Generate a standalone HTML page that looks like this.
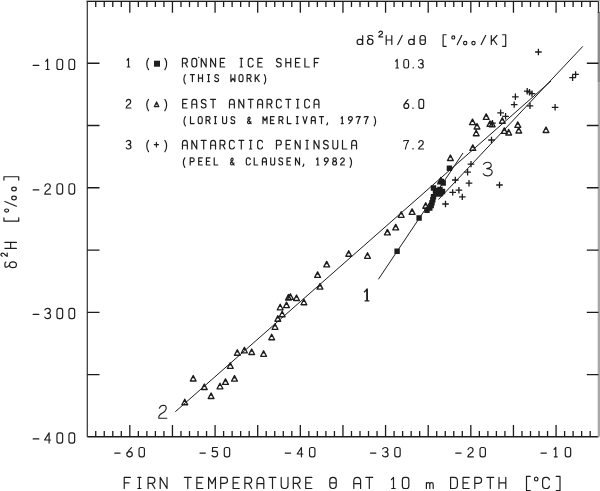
<!DOCTYPE html>
<html><head><meta charset="utf-8"><style>
html,body{margin:0;padding:0;background:#fff;width:600px;height:491px;overflow:hidden}
svg{display:block}
</style></head><body>
<svg width="600" height="491" viewBox="0 0 600 491">
<path d="M87.3,436.8 L87.3,1.3" fill="none" stroke="#383838" stroke-width="1.25"/>
<path d="M86.7,1.3 L598.5,1.3" fill="none" stroke="#1c1c1c" stroke-width="1.4"/>
<path d="M87.3,436.8 L598.5,436.8" fill="none" stroke="#1c1c1c" stroke-width="1.4"/>
<rect x="597.6" y="12" width="2.4" height="70" fill="#8c8c8c"/>
<rect x="597.7" y="82" width="2.3" height="354.8" fill="#a8a8a8"/>
<path d="M598.5,1.3 L598.5,13" fill="none" stroke="#333" stroke-width="1.4"/>
<rect x="86.5" y="0" width="513.5" height="0.9" fill="#b4b4b4"/>
<circle cx="198.7" cy="57.5" r="0.75" fill="#444"/>
<path d="M95.73,1.3 V7.0 M95.73,436.8 V431.0 M104.25,1.3 V7.0 M104.25,436.8 V431.0 M112.78,1.3 V7.0 M112.78,436.8 V431.0 M121.3,1.3 V7.0 M121.3,436.8 V431.0 M129.82,1.3 V12.7 M129.82,436.8 V425.0 M138.35,1.3 V7.0 M138.35,436.8 V431.0 M146.88,1.3 V7.0 M146.88,436.8 V431.0 M155.4,1.3 V7.0 M155.4,436.8 V431.0 M163.93,1.3 V7.0 M163.93,436.8 V431.0 M172.45,1.3 V12.7 M172.45,436.8 V425.0 M180.98,1.3 V7.0 M180.98,436.8 V431.0 M189.5,1.3 V7.0 M189.5,436.8 V431.0 M198.03,1.3 V7.0 M198.03,436.8 V431.0 M206.55,1.3 V7.0 M206.55,436.8 V431.0 M215.07,1.3 V12.7 M215.07,436.8 V425.0 M223.6,1.3 V7.0 M223.6,436.8 V431.0 M232.12,1.3 V7.0 M232.12,436.8 V431.0 M240.65,1.3 V7.0 M240.65,436.8 V431.0 M249.18,1.3 V7.0 M249.18,436.8 V431.0 M257.7,1.3 V12.7 M257.7,436.8 V425.0 M266.23,1.3 V7.0 M266.23,436.8 V431.0 M274.75,1.3 V7.0 M274.75,436.8 V431.0 M283.28,1.3 V7.0 M283.28,436.8 V431.0 M291.8,1.3 V7.0 M291.8,436.8 V431.0 M300.32,1.3 V12.7 M300.32,436.8 V425.0 M308.85,1.3 V7.0 M308.85,436.8 V431.0 M317.38,1.3 V7.0 M317.38,436.8 V431.0 M325.9,1.3 V7.0 M325.9,436.8 V431.0 M334.43,1.3 V7.0 M334.43,436.8 V431.0 M342.95,1.3 V12.7 M342.95,436.8 V425.0 M351.48,1.3 V7.0 M351.48,436.8 V431.0 M360.0,1.3 V7.0 M360.0,436.8 V431.0 M368.52,1.3 V7.0 M368.52,436.8 V431.0 M377.05,1.3 V7.0 M377.05,436.8 V431.0 M385.57,1.3 V12.7 M385.57,436.8 V425.0 M394.1,1.3 V7.0 M394.1,436.8 V431.0 M402.62,1.3 V7.0 M402.62,436.8 V431.0 M411.15,1.3 V7.0 M411.15,436.8 V431.0 M419.68,1.3 V7.0 M419.68,436.8 V431.0 M428.2,1.3 V12.7 M428.2,436.8 V425.0 M436.73,1.3 V7.0 M436.73,436.8 V431.0 M445.25,1.3 V7.0 M445.25,436.8 V431.0 M453.77,1.3 V7.0 M453.77,436.8 V431.0 M462.3,1.3 V7.0 M462.3,436.8 V431.0 M470.82,1.3 V12.7 M470.82,436.8 V425.0 M479.35,1.3 V7.0 M479.35,436.8 V431.0 M487.88,1.3 V7.0 M487.88,436.8 V431.0 M496.4,1.3 V7.0 M496.4,436.8 V431.0 M504.93,1.3 V7.0 M504.93,436.8 V431.0 M513.45,1.3 V12.7 M513.45,436.8 V425.0 M521.98,1.3 V7.0 M521.98,436.8 V431.0 M530.5,1.3 V7.0 M530.5,436.8 V431.0 M539.03,1.3 V7.0 M539.03,436.8 V431.0 M547.55,1.3 V7.0 M547.55,436.8 V431.0 M556.08,1.3 V12.7 M556.08,436.8 V425.0 M564.6,1.3 V7.0 M564.6,436.8 V431.0 M573.12,1.3 V7.0 M573.12,436.8 V431.0 M581.65,1.3 V7.0 M581.65,436.8 V431.0 M590.18,1.3 V7.0 M590.18,436.8 V431.0" stroke="#1c1c1c" stroke-width="1.3" fill="none"/>
<path d="M87.3,63.25 H99.5 M586.8,63.25 H598.5 M87.3,125.51 H99.5 M586.8,125.51 H598.5 M87.3,187.77 H99.5 M586.8,187.77 H598.5 M87.3,250.03 H99.5 M586.8,250.03 H598.5 M87.3,312.29 H99.5 M586.8,312.29 H598.5 M87.3,374.55 H99.5 M586.8,374.55 H598.5" stroke="#1c1c1c" stroke-width="1.3" fill="none"/>
<rect x="154.0" y="60.7" width="6.0" height="6.0" fill="#1e1e1e"/>
<path d="M154.4,106.6 L158.8,106.6 L156.6,102.0 Z" fill="#1e1e1e" stroke="#1e1e1e" stroke-width="1.2" stroke-linejoin="round"/>
<path d="M155.5,105.3 L157.7,105.3" stroke="#fff" stroke-width="1.0"/>
<path transform="rotate(-90)" d="M-262.09,5.86Q-262.53,4.90 -263.86,4.90L-265.79,4.90Q-267.41,4.90 -267.12,6.63Q-266.82,8.36 -264.75,9.51M-261.79,12.96C-261.79,14.87 -263.12,16.42 -264.75,16.42C-266.38,16.42 -267.71,14.87 -267.71,12.96C-267.71,11.06 -266.38,9.51 -264.75,9.51C-263.12,9.51 -261.79,11.06 -261.79,12.96 M-248.31,4.90L-248.31,16.42M-242.39,4.90L-242.39,16.42M-248.31,10.66L-242.39,10.66 M-217.92,3.94L-221.18,3.94L-221.18,18.72L-217.92,18.72 M-209.00,6.63C-209.00,7.74 -209.69,8.64 -210.55,8.64C-211.41,8.64 -212.10,7.74 -212.10,6.63C-212.10,5.51 -211.41,4.61 -210.55,4.61C-209.69,4.61 -209.00,5.51 -209.00,6.63 M-206.22,16.42L-201.48,4.90 M-196.22,14.02C-196.22,15.29 -197.02,16.32 -198.00,16.32C-198.98,16.32 -199.78,15.29 -199.78,14.02C-199.78,12.75 -198.98,11.72 -198.00,11.72C-197.02,11.72 -196.22,12.75 -196.22,14.02 M-187.22,14.02C-187.22,15.29 -188.02,16.32 -189.00,16.32C-189.98,16.32 -190.78,15.29 -190.78,14.02C-190.78,12.75 -189.98,11.72 -189.00,11.72C-188.02,11.72 -187.22,12.75 -187.22,14.02 M-180.03,3.94L-176.77,3.94L-176.77,18.72L-180.03,18.72 M-256.23,2.37Q-255.89,0.90 -254.70,0.90Q-253.17,0.90 -253.17,2.58Q-253.17,3.84 -254.70,4.89Q-256.23,5.94 -256.31,7.20L-253.00,7.20" fill="none" stroke="#1e1e1e" stroke-width="1.2" stroke-linecap="round" stroke-linejoin="round"/>
<path d="M33.15,65.41L38.85,65.41 M45.80,61.30L47.60,59.25L47.60,69.51M46.10,69.51L49.10,69.51 M58.97,59.25L60.62,59.25Q62.65,59.25 62.65,61.56L62.65,67.20Q62.65,69.51 60.62,69.51L58.97,69.51Q56.95,69.51 56.95,67.20L56.95,61.56Q56.95,59.25 58.97,59.25 M70.97,59.25L72.62,59.25Q74.65,59.25 74.65,61.56L74.65,67.20Q74.65,69.51 72.62,69.51L70.97,69.51Q68.95,69.51 68.95,67.20L68.95,61.56Q68.95,59.25 70.97,59.25 M33.15,189.93L38.85,189.93 M44.90,186.16Q45.50,183.77 47.60,183.77Q50.30,183.77 50.30,186.51Q50.30,188.56 47.60,190.27Q44.90,191.98 44.75,194.03L50.60,194.03 M58.97,183.77L60.62,183.77Q62.65,183.77 62.65,186.08L62.65,191.72Q62.65,194.03 60.62,194.03L58.97,194.03Q56.95,194.03 56.95,191.72L56.95,186.08Q56.95,183.77 58.97,183.77 M70.97,183.77L72.62,183.77Q74.65,183.77 74.65,186.08L74.65,191.72Q74.65,194.03 72.62,194.03L70.97,194.03Q68.95,194.03 68.95,191.72L68.95,186.08Q68.95,183.77 70.97,183.77 M33.15,314.45L38.85,314.45 M44.90,309.83Q45.80,308.29 47.60,308.29Q50.30,308.29 50.30,310.86Q50.30,313.25 47.30,313.25M47.30,313.25Q50.60,313.25 50.60,315.99Q50.60,318.55 47.60,318.55Q45.50,318.55 44.75,317.01 M58.97,308.29L60.62,308.29Q62.65,308.29 62.65,310.60L62.65,316.24Q62.65,318.55 60.62,318.55L58.97,318.55Q56.95,318.55 56.95,316.24L56.95,310.60Q56.95,308.29 58.97,308.29 M70.97,308.29L72.62,308.29Q74.65,308.29 74.65,310.60L74.65,316.24Q74.65,318.55 72.62,318.55L70.97,318.55Q68.95,318.55 68.95,316.24L68.95,310.60Q68.95,308.29 70.97,308.29 M33.15,438.97L38.85,438.97 M49.10,443.07L49.10,432.81L44.60,439.99L50.60,439.99 M58.97,432.81L60.62,432.81Q62.65,432.81 62.65,435.12L62.65,440.76Q62.65,443.07 60.62,443.07L58.97,443.07Q56.95,443.07 56.95,440.76L56.95,435.12Q56.95,432.81 58.97,432.81 M70.97,432.81L72.62,432.81Q74.65,432.81 74.65,435.12L74.65,440.76Q74.65,443.07 72.62,443.07L70.97,443.07Q68.95,443.07 68.95,440.76L68.95,435.12Q68.95,432.81 70.97,432.81 M114.73,453.08L120.12,453.08 M131.51,447.65Q128.39,450.29 127.11,453.55M132.29,454.24C132.29,455.66 131.05,456.80 129.52,456.80C128.00,456.80 126.76,455.66 126.76,454.24C126.76,452.83 128.00,451.69 129.52,451.69C131.05,451.69 132.29,452.83 132.29,454.24 M140.94,447.50L142.51,447.50Q144.42,447.50 144.42,449.59L144.42,454.71Q144.42,456.80 142.51,456.80L140.94,456.80Q139.03,456.80 139.03,454.71L139.03,449.59Q139.03,447.50 140.94,447.50 M199.98,453.08L205.37,453.08 M217.33,447.50L212.64,447.50L212.36,451.69Q213.35,451.22 214.77,451.22Q217.61,451.22 217.61,454.01Q217.61,456.80 214.77,456.80Q212.93,456.80 212.08,455.56 M226.19,447.50L227.76,447.50Q229.67,447.50 229.67,449.59L229.67,454.71Q229.67,456.80 227.76,456.80L226.19,456.80Q224.28,456.80 224.28,454.71L224.28,449.59Q224.28,447.50 226.19,447.50 M285.23,453.08L290.62,453.08 M301.44,456.80L301.44,447.50L297.19,454.01L302.87,454.01 M311.44,447.50L313.01,447.50Q314.92,447.50 314.92,449.59L314.92,454.71Q314.92,456.80 313.01,456.80L311.44,456.80Q309.53,456.80 309.53,454.71L309.53,449.59Q309.53,447.50 311.44,447.50 M370.48,453.08L375.87,453.08 M382.72,448.89Q383.57,447.50 385.27,447.50Q387.83,447.50 387.83,449.82Q387.83,452.00 384.99,452.00M384.99,452.00Q388.12,452.00 388.12,454.48Q388.12,456.80 385.27,456.80Q383.29,456.80 382.58,455.40 M396.69,447.50L398.26,447.50Q400.17,447.50 400.17,449.59L400.17,454.71Q400.17,456.80 398.26,456.80L396.69,456.80Q394.78,456.80 394.78,454.71L394.78,449.59Q394.78,447.50 396.69,447.50 M455.73,453.08L461.12,453.08 M467.97,449.67Q468.54,447.50 470.52,447.50Q473.08,447.50 473.08,449.98Q473.08,451.84 470.52,453.39Q467.97,454.94 467.83,456.80L473.37,456.80 M481.94,447.50L483.51,447.50Q485.42,447.50 485.42,449.59L485.42,454.71Q485.42,456.80 483.51,456.80L481.94,456.80Q480.03,456.80 480.03,454.71L480.03,449.59Q480.03,447.50 481.94,447.50 M540.98,453.08L546.37,453.08 M554.07,449.36L555.78,447.50L555.78,456.80M554.36,456.80L557.20,456.80 M567.19,447.50L568.76,447.50Q570.67,447.50 570.67,449.59L570.67,454.71Q570.67,456.80 568.76,456.80L567.19,456.80Q565.28,456.80 565.28,454.71L565.28,449.59Q565.28,447.50 567.19,447.50 M130.36,477.40L124.24,477.40L124.24,488.50M124.24,482.95L129.00,482.95 M137.87,477.40L140.93,477.40M139.40,477.40L139.40,488.50M137.87,488.50L140.93,488.50 M148.10,488.50L148.10,477.40L152.18,477.40Q154.90,477.40 154.90,480.36Q154.90,483.32 152.18,483.32L148.10,483.32M151.84,483.32L154.90,488.50 M160.20,488.50L160.20,477.40L167.00,488.50L167.00,477.40 M184.40,477.40L191.20,477.40M187.80,477.40L187.80,488.50 M202.96,477.40L196.84,477.40L196.84,488.50L202.96,488.50M196.84,482.95L201.60,482.95 M208.60,488.50L208.60,477.40L212.00,483.69L215.40,477.40L215.40,488.50 M220.70,488.50L220.70,477.40L224.78,477.40Q227.50,477.40 227.50,480.36Q227.50,483.32 224.78,483.32L220.70,483.32 M239.26,477.40L233.14,477.40L233.14,488.50L239.26,488.50M233.14,482.95L237.90,482.95 M244.90,488.50L244.90,477.40L248.98,477.40Q251.70,477.40 251.70,480.36Q251.70,483.32 248.98,483.32L244.90,483.32M248.64,483.32L251.70,488.50 M257.00,488.50L257.00,481.10Q257.00,477.40 260.40,477.40Q263.80,477.40 263.80,481.10L263.80,488.50M257.00,483.69L263.80,483.69 M269.10,477.40L275.90,477.40M272.50,477.40L272.50,488.50 M281.20,477.40L281.20,485.35Q281.20,488.50 284.09,488.50L285.11,488.50Q288.00,488.50 288.00,485.35L288.00,477.40 M293.30,488.50L293.30,477.40L297.38,477.40Q300.10,477.40 300.10,480.36Q300.10,483.32 297.38,483.32L293.30,483.32M297.04,483.32L300.10,488.50 M311.86,477.40L305.74,477.40L305.74,488.50L311.86,488.50M305.74,482.95L310.50,482.95 M332.66,477.40L333.34,477.40Q336.23,477.40 336.23,480.54L336.23,485.35Q336.23,488.50 333.34,488.50L332.66,488.50Q329.77,488.50 329.77,485.35L329.77,480.54Q329.77,477.40 332.66,477.40M329.77,482.95L336.23,482.95 M353.80,488.50L353.80,481.10Q353.80,477.40 357.20,477.40Q360.60,477.40 360.60,481.10L360.60,488.50M353.80,483.69L360.60,483.69 M365.90,477.40L372.70,477.40M369.30,477.40L369.30,488.50 M391.46,479.62L393.50,477.40L393.50,488.50M391.80,488.50L395.20,488.50 M404.67,477.40L406.54,477.40Q408.83,477.40 408.83,479.90L408.83,486.00Q408.83,488.50 406.54,488.50L404.67,488.50Q402.37,488.50 402.37,486.00L402.37,479.90Q402.37,477.40 404.67,477.40 M426.40,488.50L426.40,482.58M426.40,484.06Q426.91,482.58 428.10,482.58Q429.80,482.58 429.80,484.43L429.80,488.50M429.80,484.43Q429.80,482.58 431.50,482.58Q433.20,482.58 433.20,484.43L433.20,488.50 M450.60,477.40L450.60,488.50L454.17,488.50Q457.40,488.50 457.40,484.98L457.40,480.91Q457.40,477.40 454.17,477.40Z M469.16,477.40L463.04,477.40L463.04,488.50L469.16,488.50M463.04,482.95L467.80,482.95 M474.80,488.50L474.80,477.40L478.88,477.40Q481.60,477.40 481.60,480.36Q481.60,483.32 478.88,483.32L474.80,483.32 M486.90,477.40L493.70,477.40M490.30,477.40L490.30,488.50 M499.00,477.40L499.00,488.50M505.80,477.40L505.80,488.50M499.00,482.95L505.80,482.95 M530.24,476.47L526.50,476.47L526.50,490.72L530.24,490.72 M537.99,479.06C537.99,480.14 537.19,481.01 536.20,481.01C535.21,481.01 534.42,480.14 534.42,479.06C534.42,477.99 535.21,477.12 536.20,477.12C537.19,477.12 537.99,477.99 537.99,479.06 M549.40,479.80Q549.06,477.40 546.51,477.40L545.32,477.40Q542.60,477.40 542.60,480.54L542.60,485.35Q542.60,488.50 545.32,488.50L546.51,488.50Q549.06,488.50 549.40,486.09 M556.26,476.47L560.00,476.47L560.00,490.72L556.26,490.72 M362.70,35.50L362.70,44.50M362.70,42.10Q362.70,39.40 360.32,39.40L359.34,39.40Q357.10,39.40 357.10,41.95Q357.10,44.50 359.34,44.50L360.32,44.50Q362.70,44.50 362.70,42.10 M372.72,36.25Q372.30,35.50 371.04,35.50L369.22,35.50Q367.68,35.50 367.96,36.85Q368.24,38.20 370.20,39.10M373.00,41.80C373.00,43.29 371.75,44.50 370.20,44.50C368.65,44.50 367.40,43.29 367.40,41.80C367.40,40.31 368.65,39.10 370.20,39.10C371.75,39.10 373.00,40.31 373.00,41.80 M386.20,35.50L386.20,44.50M391.80,35.50L391.80,44.50M386.20,40.00L391.80,40.00 M397.76,44.50L402.24,35.50 M414.20,35.50L414.20,44.50M414.20,42.10Q414.20,39.40 411.82,39.40L410.84,39.40Q408.60,39.40 408.60,41.95Q408.60,44.50 410.84,44.50L411.82,44.50Q414.20,44.50 414.20,42.10 M422.42,35.50L422.98,35.50Q425.36,35.50 425.36,38.05L425.36,41.95Q425.36,44.50 422.98,44.50L422.42,44.50Q420.04,44.50 420.04,41.95L420.04,38.05Q420.04,35.50 422.42,35.50M420.04,40.00L425.36,40.00 M446.18,34.75L443.10,34.75L443.10,46.30L446.18,46.30 M454.77,37.45C454.77,38.32 454.11,39.02 453.30,39.02C452.49,39.02 451.83,38.32 451.83,37.45C451.83,36.58 452.49,35.88 453.30,35.88C454.11,35.88 454.77,36.58 454.77,37.45 M457.26,44.50L461.74,35.50 M466.88,43.12C466.88,44.12 466.13,44.92 465.20,44.92C464.27,44.92 463.52,44.12 463.52,43.12C463.52,42.13 464.27,41.33 465.20,41.33C466.13,41.33 466.88,42.13 466.88,43.12 M475.18,43.12C475.18,44.12 474.43,44.92 473.50,44.92C472.57,44.92 471.82,44.12 471.82,43.12C471.82,42.13 472.57,41.33 473.50,41.33C474.43,41.33 475.18,42.13 475.18,43.12 M481.16,44.50L485.64,35.50 M491.30,35.50L491.30,44.50M496.90,35.50L491.30,41.50M493.26,39.55L496.90,44.50 M502.62,34.75L505.70,34.75L505.70,46.30L502.62,46.30 M378.90,32.53Q379.30,31.20 380.70,31.20Q382.50,31.20 382.50,32.72Q382.50,33.86 380.70,34.81Q378.90,35.76 378.80,36.90L382.70,36.90 M127.04,60.12L128.50,58.40L128.50,66.98M127.28,66.98L129.72,66.98 M148.52,58.40C146.20,61.26 146.20,66.84 148.52,69.70 M164.88,58.40C167.20,61.26 167.20,66.84 164.88,69.70 M182.46,66.98L182.46,58.40L185.39,58.40Q187.34,58.40 187.34,60.69Q187.34,62.98 185.39,62.98L182.46,62.98M185.14,62.98L187.34,66.98 M193.93,58.40L194.67,58.40Q196.74,58.40 196.74,60.83L196.74,64.55Q196.74,66.98 194.67,66.98L193.93,66.98Q191.86,66.98 191.86,64.55L191.86,60.83Q191.86,58.40 193.93,58.40 M201.26,66.98L201.26,58.40L206.14,66.98L206.14,58.40 M210.66,66.98L210.66,58.40L215.54,66.98L215.54,58.40 M224.70,58.40L220.30,58.40L220.30,66.98L224.70,66.98M220.30,62.69L223.72,62.69 M240.20,58.40L242.40,58.40M241.30,58.40L241.30,66.98M240.20,66.98L242.40,66.98 M253.14,60.26Q252.90,58.40 251.07,58.40L250.21,58.40Q248.26,58.40 248.26,60.83L248.26,64.55Q248.26,66.98 250.21,66.98L251.07,66.98Q252.90,66.98 253.14,65.12 M262.30,58.40L257.90,58.40L257.90,66.98L262.30,66.98M257.90,62.69L261.32,62.69 M281.22,59.83Q280.73,58.40 278.90,58.40Q276.58,58.40 276.58,60.55Q276.58,62.40 278.90,62.69Q281.22,62.98 281.22,64.83Q281.22,66.98 278.90,66.98Q276.95,66.98 276.46,65.55 M285.86,58.40L285.86,66.98M290.74,58.40L290.74,66.98M285.86,62.69L290.74,62.69 M299.90,58.40L295.50,58.40L295.50,66.98L299.90,66.98M295.50,62.69L298.92,62.69 M304.90,58.40L304.90,66.98L309.30,66.98 M318.70,58.40L314.30,58.40L314.30,66.98M314.30,62.69L317.72,62.69 M126.30,101.40Q126.79,99.40 128.50,99.40Q130.70,99.40 130.70,101.69Q130.70,103.40 128.50,104.83Q126.30,106.26 126.18,107.98L130.94,107.98 M148.52,99.40C146.20,102.26 146.20,107.84 148.52,110.70 M164.88,99.40C167.20,102.26 167.20,107.84 164.88,110.70 M187.10,99.40L182.70,99.40L182.70,107.98L187.10,107.98M182.70,103.69L186.12,103.69 M191.86,107.98L191.86,102.26Q191.86,99.40 194.30,99.40Q196.74,99.40 196.74,102.26L196.74,107.98M191.86,104.26L196.74,104.26 M206.02,100.83Q205.53,99.40 203.70,99.40Q201.38,99.40 201.38,101.55Q201.38,103.40 203.70,103.69Q206.02,103.98 206.02,105.84Q206.02,107.98 203.70,107.98Q201.75,107.98 201.26,106.55 M210.66,99.40L215.54,99.40M213.10,99.40L213.10,107.98 M229.46,107.98L229.46,102.26Q229.46,99.40 231.90,99.40Q234.34,99.40 234.34,102.26L234.34,107.98M229.46,104.26L234.34,104.26 M238.86,107.98L238.86,99.40L243.74,107.98L243.74,99.40 M248.26,99.40L253.14,99.40M250.70,99.40L250.70,107.98 M257.66,107.98L257.66,102.26Q257.66,99.40 260.10,99.40Q262.54,99.40 262.54,102.26L262.54,107.98M257.66,104.26L262.54,104.26 M267.06,107.98L267.06,99.40L269.99,99.40Q271.94,99.40 271.94,101.69Q271.94,103.98 269.99,103.98L267.06,103.98M269.74,103.98L271.94,107.98 M281.34,101.26Q281.10,99.40 279.27,99.40L278.41,99.40Q276.46,99.40 276.46,101.83L276.46,105.55Q276.46,107.98 278.41,107.98L279.27,107.98Q281.10,107.98 281.34,106.12 M285.86,99.40L290.74,99.40M288.30,99.40L288.30,107.98 M296.60,99.40L298.80,99.40M297.70,99.40L297.70,107.98M296.60,107.98L298.80,107.98 M309.54,101.26Q309.30,99.40 307.47,99.40L306.61,99.40Q304.66,99.40 304.66,101.83L304.66,105.55Q304.66,107.98 306.61,107.98L307.47,107.98Q309.30,107.98 309.54,106.12 M314.06,107.98L314.06,102.26Q314.06,99.40 316.50,99.40Q318.94,99.40 318.94,102.26L318.94,107.98M314.06,104.26L318.94,104.26 M126.30,141.69Q127.04,140.40 128.50,140.40Q130.70,140.40 130.70,142.55Q130.70,144.55 128.26,144.55M128.26,144.55Q130.94,144.55 130.94,146.84Q130.94,148.98 128.50,148.98Q126.79,148.98 126.18,147.69 M148.52,140.40C146.20,143.26 146.20,148.84 148.52,151.70 M164.88,140.40C167.20,143.26 167.20,148.84 164.88,151.70 M182.46,148.98L182.46,143.26Q182.46,140.40 184.90,140.40Q187.34,140.40 187.34,143.26L187.34,148.98M182.46,145.26L187.34,145.26 M191.86,148.98L191.86,140.40L196.74,148.98L196.74,140.40 M201.26,140.40L206.14,140.40M203.70,140.40L203.70,148.98 M210.66,148.98L210.66,143.26Q210.66,140.40 213.10,140.40Q215.54,140.40 215.54,143.26L215.54,148.98M210.66,145.26L215.54,145.26 M220.06,148.98L220.06,140.40L222.99,140.40Q224.94,140.40 224.94,142.69Q224.94,144.98 222.99,144.98L220.06,144.98M222.74,144.98L224.94,148.98 M234.34,142.26Q234.10,140.40 232.27,140.40L231.41,140.40Q229.46,140.40 229.46,142.83L229.46,146.55Q229.46,148.98 231.41,148.98L232.27,148.98Q234.10,148.98 234.34,147.12 M238.86,140.40L243.74,140.40M241.30,140.40L241.30,148.98 M249.60,140.40L251.80,140.40M250.70,140.40L250.70,148.98M249.60,148.98L251.80,148.98 M262.54,142.26Q262.30,140.40 260.47,140.40L259.61,140.40Q257.66,140.40 257.66,142.83L257.66,146.55Q257.66,148.98 259.61,148.98L260.47,148.98Q262.30,148.98 262.54,147.12 M276.46,148.98L276.46,140.40L279.39,140.40Q281.34,140.40 281.34,142.69Q281.34,144.98 279.39,144.98L276.46,144.98 M290.50,140.40L286.10,140.40L286.10,148.98L290.50,148.98M286.10,144.69L289.52,144.69 M295.26,148.98L295.26,140.40L300.14,148.98L300.14,140.40 M306.00,140.40L308.20,140.40M307.10,140.40L307.10,148.98M306.00,148.98L308.20,148.98 M314.06,148.98L314.06,140.40L318.94,148.98L318.94,140.40 M328.22,141.83Q327.73,140.40 325.90,140.40Q323.58,140.40 323.58,142.55Q323.58,144.40 325.90,144.69Q328.22,144.98 328.22,146.84Q328.22,148.98 325.90,148.98Q323.95,148.98 323.46,147.55 M332.86,140.40L332.86,146.55Q332.86,148.98 334.93,148.98L335.67,148.98Q337.74,148.98 337.74,146.55L337.74,140.40 M342.50,140.40L342.50,148.98L346.90,148.98 M351.66,148.98L351.66,143.26Q351.66,140.40 354.10,140.40Q356.54,140.40 356.54,143.26L356.54,148.98M351.66,145.26L356.54,145.26 M156.40,142.40L156.40,146.98M154.32,144.69L158.48,144.69 M395.70,61.20L397.20,59.50L397.20,68.02M395.95,68.02L398.45,68.02 M405.51,59.50L406.89,59.50Q408.57,59.50 408.57,61.42L408.57,66.10Q408.57,68.02 406.89,68.02L405.51,68.02Q403.82,68.02 403.82,66.10L403.82,61.42Q403.82,59.50 405.51,59.50 M413.20,67.45L413.20,68.02 M418.55,60.78Q419.30,59.50 420.80,59.50Q423.05,59.50 423.05,61.63Q423.05,63.62 420.55,63.62M420.55,63.62Q423.30,63.62 423.30,65.89Q423.30,68.02 420.80,68.02Q419.05,68.02 418.43,66.74 M408.05,99.55Q405.30,102.10 404.18,105.25M408.74,105.93C408.74,107.29 407.65,108.40 406.30,108.40C404.95,108.40 403.86,107.29 403.86,105.93C403.86,104.56 404.95,103.45 406.30,103.45C407.65,103.45 408.74,104.56 408.74,105.93 M413.00,107.80L413.00,108.40 M420.61,99.40L421.99,99.40Q423.68,99.40 423.68,101.43L423.68,106.38Q423.68,108.40 421.99,108.40L420.61,108.40Q418.93,108.40 418.93,106.38L418.93,101.43Q418.93,99.40 420.61,99.40 M403.60,141.07Q403.98,140.50 404.85,140.50L408.60,140.50Q406.23,144.05 405.35,149.02 M413.00,148.45L413.00,149.02 M418.75,142.49Q419.25,140.50 421.00,140.50Q423.25,140.50 423.25,142.77Q423.25,144.48 421.00,145.90Q418.75,147.32 418.62,149.02L423.50,149.02 M185.30,74.70C183.40,77.00 183.40,81.48 185.30,83.78 M190.40,74.70L194.40,74.70M192.40,74.70L192.40,81.60 M198.50,74.70L198.50,81.60M202.50,74.70L202.50,81.60M198.50,78.15L202.50,78.15 M207.70,74.70L209.50,74.70M208.60,74.70L208.60,81.60M207.70,81.60L209.50,81.60 M218.60,75.85Q218.20,74.70 216.70,74.70Q214.80,74.70 214.80,76.42Q214.80,77.92 216.70,78.15Q218.60,78.38 218.60,79.88Q218.60,81.60 216.70,81.60Q215.10,81.60 214.70,80.45 M230.90,74.70L230.90,81.60L232.90,78.38L234.90,81.60L234.90,74.70 M240.70,74.70L241.30,74.70Q243.00,74.70 243.00,76.66L243.00,79.64Q243.00,81.60 241.30,81.60L240.70,81.60Q239.00,81.60 239.00,79.64L239.00,76.66Q239.00,74.70 240.70,74.70 M247.10,81.60L247.10,74.70L249.50,74.70Q251.10,74.70 251.10,76.54Q251.10,78.38 249.50,78.38L247.10,78.38M249.30,78.38L251.10,81.60 M255.20,74.70L255.20,81.60M259.20,74.70L255.20,79.30M256.60,77.81L259.20,81.60 M264.30,74.70C266.20,77.00 266.20,81.48 264.30,83.78 M185.40,116.70C183.50,119.00 183.50,123.48 185.40,125.78 M190.50,116.70L190.50,123.60L194.10,123.60 M199.90,116.70L200.50,116.70Q202.20,116.70 202.20,118.66L202.20,121.64Q202.20,123.60 200.50,123.60L199.90,123.60Q198.20,123.60 198.20,121.64L198.20,118.66Q198.20,116.70 199.90,116.70 M206.10,123.60L206.10,116.70L208.50,116.70Q210.10,116.70 210.10,118.54Q210.10,120.38 208.50,120.38L206.10,120.38M208.30,120.38L210.10,123.60 M214.50,116.70L216.30,116.70M215.40,116.70L215.40,123.60M214.50,123.60L216.30,123.60 M222.60,116.70L222.60,121.64Q222.60,123.60 224.30,123.60L224.90,123.60Q226.60,123.60 226.60,121.64L226.60,116.70 M234.80,117.85Q234.40,116.70 232.90,116.70Q231.00,116.70 231.00,118.42Q231.00,119.92 232.90,120.15Q234.80,120.38 234.80,121.88Q234.80,123.60 232.90,123.60Q231.30,123.60 230.90,122.45 M251.10,123.60L248.40,120.03Q247.80,119.23 248.00,118.20Q248.30,117.05 249.20,117.05Q250.10,117.05 250.10,118.20Q250.10,119.23 249.00,120.15L248.10,120.95Q247.30,121.76 247.60,122.68Q248.00,123.60 249.00,123.60Q250.10,123.60 250.90,121.76 M263.00,123.60L263.00,116.70L265.00,120.61L267.00,116.70L267.00,123.60 M274.10,116.70L270.50,116.70L270.50,123.60L274.10,123.60M270.50,120.15L273.30,120.15 M279.00,123.60L279.00,116.70L281.40,116.70Q283.00,116.70 283.00,118.54Q283.00,120.38 281.40,120.38L279.00,120.38M281.20,120.38L283.00,123.60 M287.40,116.70L287.40,123.60L291.00,123.60 M296.40,116.70L298.20,116.70M297.30,116.70L297.30,123.60M296.40,123.60L298.20,123.60 M303.00,116.70L305.00,123.60L307.00,116.70 M311.30,123.60L311.30,119.00Q311.30,116.70 313.30,116.70Q315.30,116.70 315.30,119.00L315.30,123.60M311.30,120.61L315.30,120.61 M319.50,116.70L323.50,116.70M321.50,116.70L321.50,123.60 M327.50,122.80L327.50,123.60L326.70,124.98 M341.10,118.08L342.30,116.70L342.30,123.60M341.30,123.60L343.30,123.60 M352.35,118.60C352.35,119.65 351.48,120.50 350.40,120.50C349.32,120.50 348.45,119.65 348.45,118.60C348.45,117.55 349.32,116.70 350.40,116.70C351.48,116.70 352.35,117.55 352.35,118.60M352.10,119.12Q351.20,121.76 349.00,123.60 M356.30,117.16Q356.60,116.70 357.30,116.70L360.30,116.70Q358.40,119.58 357.70,123.60 M364.20,117.16Q364.50,116.70 365.20,116.70L368.20,116.70Q366.30,119.58 365.60,123.60 M374.20,116.70C376.10,119.00 376.10,123.48 374.20,125.78 M184.80,157.80C182.90,160.20 182.90,164.88 184.80,167.28 M190.20,165.00L190.20,157.80L192.60,157.80Q194.20,157.80 194.20,159.72Q194.20,161.64 192.60,161.64L190.20,161.64 M202.30,157.80L198.70,157.80L198.70,165.00L202.30,165.00M198.70,161.40L201.50,161.40 M210.00,157.80L206.40,157.80L206.40,165.00L210.00,165.00M206.40,161.40L209.20,161.40 M214.20,157.80L214.20,165.00L217.80,165.00 M234.10,165.00L231.40,161.28Q230.80,160.44 231.00,159.36Q231.30,158.16 232.20,158.16Q233.10,158.16 233.10,159.36Q233.10,160.44 232.00,161.40L231.10,162.24Q230.30,163.08 230.60,164.04Q231.00,165.00 232.00,165.00Q233.10,165.00 233.90,163.08 M250.30,159.36Q250.10,157.80 248.60,157.80L247.90,157.80Q246.30,157.80 246.30,159.84L246.30,162.96Q246.30,165.00 247.90,165.00L248.60,165.00Q250.10,165.00 250.30,163.44 M254.20,157.80L254.20,165.00L257.80,165.00 M262.40,165.00L262.40,160.20Q262.40,157.80 264.40,157.80Q266.40,157.80 266.40,160.20L266.40,165.00M262.40,161.88L266.40,161.88 M270.70,157.80L270.70,162.96Q270.70,165.00 272.40,165.00L273.00,165.00Q274.70,165.00 274.70,162.96L274.70,157.80 M282.70,159.00Q282.30,157.80 280.80,157.80Q278.90,157.80 278.90,159.60Q278.90,161.16 280.80,161.40Q282.70,161.64 282.70,163.20Q282.70,165.00 280.80,165.00Q279.20,165.00 278.80,163.80 M290.60,157.80L287.00,157.80L287.00,165.00L290.60,165.00M287.00,161.40L289.80,161.40 M295.50,165.00L295.50,157.80L299.50,165.00L299.50,157.80 M303.70,164.16L303.70,165.00L302.90,166.44 M316.60,159.24L317.80,157.80L317.80,165.00M316.80,165.00L318.80,165.00 M328.25,159.78C328.25,160.87 327.38,161.76 326.30,161.76C325.22,161.76 324.35,160.87 324.35,159.78C324.35,158.69 325.22,157.80 326.30,157.80C327.38,157.80 328.25,158.69 328.25,159.78M328.00,160.32Q327.10,163.08 324.90,165.00 M336.30,159.54C336.30,160.50 335.54,161.28 334.60,161.28C333.66,161.28 332.90,160.50 332.90,159.54C332.90,158.58 333.66,157.80 334.60,157.80C335.54,157.80 336.30,158.58 336.30,159.54M336.60,163.14C336.60,164.17 335.70,165.00 334.60,165.00C333.50,165.00 332.60,164.17 332.60,163.14C332.60,162.11 333.50,161.28 334.60,161.28C335.70,161.28 336.60,162.11 336.60,163.14 M340.70,159.48Q341.10,157.80 342.50,157.80Q344.30,157.80 344.30,159.72Q344.30,161.16 342.50,162.36Q340.70,163.56 340.60,165.00L344.50,165.00 M350.10,157.80C352.00,160.20 352.00,164.88 350.10,167.28" fill="none" stroke="#1e1e1e" stroke-width="1.2" stroke-linecap="round" stroke-linejoin="round"/>
<path d="M364.0,292.3 Q365.8,291.2 367.1,288.9 L367.1,300.6 M364.6,300.9 L369.4,300.9" fill="none" stroke="#1e1e1e" stroke-width="1.3" stroke-linejoin="round"/>
<path d="M366.3,290.2 L367.9,288.9 L367.9,300.6 L366.3,300.6 Z" fill="#1e1e1e"/>
<path d="M159.3,408.2 Q160.5,405.2 163.2,405.2 Q166.6,405.4 166.2,408.8 Q165.4,411.8 162,413.2 Q158.4,415 158.8,418.2 L166.8,418.2" fill="none" stroke="#1e1e1e" stroke-width="1.1" stroke-linecap="round"/>
<path d="M483.5,164.3 Q485,162 488.2,162.2 Q491.6,162.8 491.2,166 Q490.5,168.3 486.3,168.6 Q492.4,168.8 492.2,172.3 Q491.6,175.9 487.3,175.9 Q484.2,175.8 483.3,173.8" fill="none" stroke="#1e1e1e" stroke-width="1.1" stroke-linecap="round"/>
<path d="M175.3,411.7 L551,81" stroke="#1c1c1c" stroke-width="1.0" fill="none"/>
<path d="M438.5,199.5 L582.8,46.4" stroke="#1c1c1c" stroke-width="1.0" fill="none"/>
<path d="M378.4,279.3 L463,153" stroke="#1c1c1c" stroke-width="1.0" fill="none"/>
<path d="M181.90,404.70 L187.70,404.70 L184.80,399.20 Z M190.30,381.00 L196.10,381.00 L193.20,375.50 Z M201.40,389.50 L207.20,389.50 L204.30,384.00 Z M208.20,398.50 L214.00,398.50 L211.10,393.00 Z M217.10,388.80 L222.90,388.80 L220.00,383.30 Z M222.60,384.40 L228.40,384.40 L225.50,378.90 Z M231.60,381.10 L237.40,381.10 L234.50,375.60 Z M227.40,368.30 L233.20,368.30 L230.30,362.80 Z M234.40,355.20 L240.20,355.20 L237.30,349.70 Z M241.50,352.80 L247.30,352.80 L244.40,347.30 Z M248.80,354.50 L254.60,354.50 L251.70,349.00 Z M260.70,356.30 L266.50,356.30 L263.60,350.80 Z M268.80,339.70 L274.60,339.70 L271.70,334.20 Z M272.10,329.30 L277.90,329.30 L275.00,323.80 Z M274.90,321.20 L280.70,321.20 L277.80,315.70 Z M279.30,316.70 L285.10,316.70 L282.20,311.20 Z M277.30,309.80 L283.10,309.80 L280.20,304.30 Z M283.60,307.60 L289.40,307.60 L286.50,302.10 Z M285.50,300.00 L291.30,300.00 L288.40,294.50 Z M287.50,299.30 L293.30,299.30 L290.40,293.80 Z M293.60,300.50 L299.40,300.50 L296.50,295.00 Z M301.00,304.70 L306.80,304.70 L303.90,299.20 Z M314.70,277.40 L320.50,277.40 L317.60,271.90 Z M317.10,289.10 L322.90,289.10 L320.00,283.60 Z M323.80,266.90 L329.60,266.90 L326.70,261.40 Z M345.80,256.20 L351.60,256.20 L348.70,250.70 Z M364.60,258.30 L370.40,258.30 L367.50,252.80 Z M384.50,234.90 L390.30,234.90 L387.40,229.40 Z M392.80,229.90 L398.60,229.90 L395.70,224.40 Z M398.30,217.30 L404.10,217.30 L401.20,211.80 Z M409.20,214.40 L415.00,214.40 L412.10,208.90 Z M422.80,208.20 L428.60,208.20 L425.70,202.70 Z M438.10,183.10 L443.90,183.10 L441.00,177.60 Z M447.50,160.50 L453.30,160.50 L450.40,155.00 Z M469.90,150.40 L475.70,150.40 L472.80,144.90 Z M469.60,124.60 L475.40,124.60 L472.50,119.10 Z M474.10,129.00 L479.90,129.00 L477.00,123.50 Z M473.30,135.70 L479.10,135.70 L476.20,130.20 Z M483.30,119.40 L489.10,119.40 L486.20,113.90 Z M487.10,126.40 L492.90,126.40 L490.00,120.90 Z M489.30,126.80 L495.10,126.80 L492.20,121.30 Z M499.40,123.20 L505.20,123.20 L502.30,117.70 Z M501.40,133.40 L507.20,133.40 L504.30,127.90 Z M505.80,135.00 L511.60,135.00 L508.70,129.50 Z M514.90,127.40 L520.70,127.40 L517.80,121.90 Z M515.90,133.00 L521.70,133.00 L518.80,127.50 Z M543.10,132.50 L548.90,132.50 L546.00,127.00 Z" stroke="#1c1c1c" stroke-width="1.35" fill="none" stroke-linejoin="round"/>
<path d="M184.80,399.20 L186.30,402.00 L183.30,402.00 Z M193.20,375.50 L194.70,378.30 L191.70,378.30 Z M204.30,384.00 L205.80,386.80 L202.80,386.80 Z M211.10,393.00 L212.60,395.80 L209.60,395.80 Z M220.00,383.30 L221.50,386.10 L218.50,386.10 Z M225.50,378.90 L227.00,381.70 L224.00,381.70 Z M234.50,375.60 L236.00,378.40 L233.00,378.40 Z M230.30,362.80 L231.80,365.60 L228.80,365.60 Z M237.30,349.70 L238.80,352.50 L235.80,352.50 Z M244.40,347.30 L245.90,350.10 L242.90,350.10 Z M251.70,349.00 L253.20,351.80 L250.20,351.80 Z M263.60,350.80 L265.10,353.60 L262.10,353.60 Z M271.70,334.20 L273.20,337.00 L270.20,337.00 Z M275.00,323.80 L276.50,326.60 L273.50,326.60 Z M277.80,315.70 L279.30,318.50 L276.30,318.50 Z M282.20,311.20 L283.70,314.00 L280.70,314.00 Z M280.20,304.30 L281.70,307.10 L278.70,307.10 Z M286.50,302.10 L288.00,304.90 L285.00,304.90 Z M288.40,294.50 L289.90,297.30 L286.90,297.30 Z M290.40,293.80 L291.90,296.60 L288.90,296.60 Z M296.50,295.00 L298.00,297.80 L295.00,297.80 Z M303.90,299.20 L305.40,302.00 L302.40,302.00 Z M317.60,271.90 L319.10,274.70 L316.10,274.70 Z M320.00,283.60 L321.50,286.40 L318.50,286.40 Z M326.70,261.40 L328.20,264.20 L325.20,264.20 Z M348.70,250.70 L350.20,253.50 L347.20,253.50 Z M367.50,252.80 L369.00,255.60 L366.00,255.60 Z M387.40,229.40 L388.90,232.20 L385.90,232.20 Z M395.70,224.40 L397.20,227.20 L394.20,227.20 Z M401.20,211.80 L402.70,214.60 L399.70,214.60 Z M412.10,208.90 L413.60,211.70 L410.60,211.70 Z M425.70,202.70 L427.20,205.50 L424.20,205.50 Z M441.00,177.60 L442.50,180.40 L439.50,180.40 Z M450.40,155.00 L451.90,157.80 L448.90,157.80 Z M472.80,144.90 L474.30,147.70 L471.30,147.70 Z M472.50,119.10 L474.00,121.90 L471.00,121.90 Z M477.00,123.50 L478.50,126.30 L475.50,126.30 Z M476.20,130.20 L477.70,133.00 L474.70,133.00 Z M486.20,113.90 L487.70,116.70 L484.70,116.70 Z M490.00,120.90 L491.50,123.70 L488.50,123.70 Z M492.20,121.30 L493.70,124.10 L490.70,124.10 Z M502.30,117.70 L503.80,120.50 L500.80,120.50 Z M504.30,127.90 L505.80,130.70 L502.80,130.70 Z M508.70,129.50 L510.20,132.30 L507.20,132.30 Z M517.80,121.90 L519.30,124.70 L516.30,124.70 Z M518.80,127.50 L520.30,130.30 L517.30,130.30 Z M546.00,127.00 L547.50,129.80 L544.50,129.80 Z" fill="#1c1c1c"/>
<path d="M394.4,248.5 h5.4 v5.4 h-5.4 Z M416.4,215.3 h5.4 v5.4 h-5.4 Z M446.7,165.6 h5.4 v5.4 h-5.4 Z M424.3,207.5 h5.4 v5.4 h-5.4 Z M427.1,205.3 h5.4 v5.4 h-5.4 Z M428.5,202.8 h5.4 v5.4 h-5.4 Z M429.3,200.1 h5.4 v5.4 h-5.4 Z M430.1,197.1 h5.4 v5.4 h-5.4 Z M430.8,194.1 h5.4 v5.4 h-5.4 Z M430.8,185.3 h5.4 v5.4 h-5.4 Z M433.8,187.8 h5.4 v5.4 h-5.4 Z M437.3,186.8 h5.4 v5.4 h-5.4 Z M439.8,188.8 h5.4 v5.4 h-5.4 Z M435.8,191.3 h5.4 v5.4 h-5.4 Z M432.8,190.8 h5.4 v5.4 h-5.4 Z M437.8,190.8 h5.4 v5.4 h-5.4 Z M438.8,178.8 h5.4 v5.4 h-5.4 Z M440.5,180.3 h5.4 v5.4 h-5.4 Z M440.8,176.6 L445.2,184.6 L436.8,184.6 Z" fill="#1c1c1c"/>
<path d="M442.2,204.0 h6.6 M445.5,200.8 v6.4 M449.4,192.4 h6.6 M452.7,189.2 v6.4 M455.6,190.2 h6.6 M458.9,187.0 v6.4 M459.0,196.9 h6.6 M462.3,193.7 v6.4 M452.0,180.0 h6.6 M455.3,176.8 v6.4 M465.7,183.2 h6.6 M469.0,180.0 v6.4 M464.3,172.2 h6.6 M467.6,169.0 v6.4 M467.7,164.1 h6.6 M471.0,160.9 v6.4 M488.2,140.0 h6.6 M491.5,136.8 v6.4 M496.2,185.0 h6.6 M499.5,181.8 v6.4 M497.3,112.8 h6.6 M500.6,109.6 v6.4 M502.3,116.3 h6.6 M505.6,113.1 v6.4 M512.1,96.8 h6.6 M515.4,93.6 v6.4 M510.9,104.6 h6.6 M514.2,101.4 v6.4 M523.9,91.2 h6.6 M527.2,88.0 v6.4 M526.2,92.2 h6.6 M529.5,89.0 v6.4 M528.7,93.6 h6.6 M532.0,90.4 v6.4 M526.7,105.8 h6.6 M530.0,102.6 v6.4 M535.1,52.0 h6.6 M538.4,48.8 v6.4 M551.8,107.3 h6.6 M555.1,104.1 v6.4 M569.3,77.7 h6.6 M572.6,74.5 v6.4 M572.3,74.4 h6.6 M575.6,71.2 v6.4 M489.2,123.2 h6.6 M492.5,120.0 v6.4" stroke="#1c1c1c" stroke-width="1.3" fill="none"/>
</svg>
</body></html>
